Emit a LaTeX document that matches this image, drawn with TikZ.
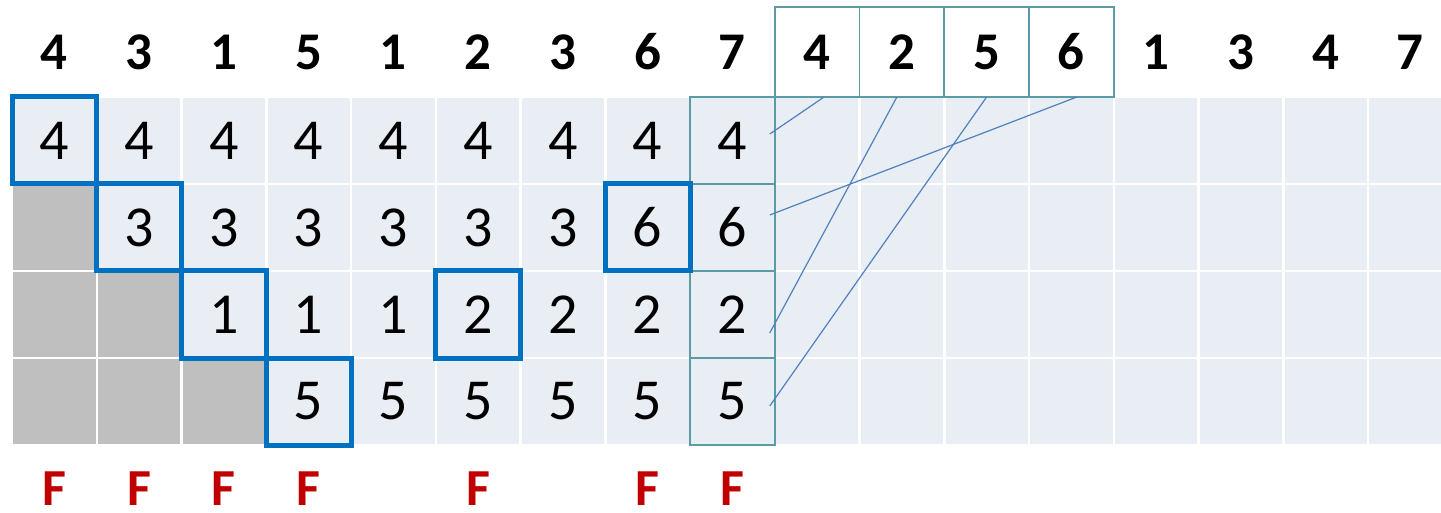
\documentclass[tikz,border=0pt]{standalone}
\usepackage{fontspec}
\setmainfont{Carlito}
\usetikzlibrary{calc}
\definecolor{cellbg}{RGB}{233,237,244}
\definecolor{shade}{RGB}{191,191,191}
\definecolor{pickblue}{RGB}{0,112,192}
\definecolor{slotteal}{RGB}{91,155,165}
\definecolor{linkblue}{RGB}{79,129,189}
\definecolor{flagred}{RGB}{192,0,0}

\begin{document}
\begin{tikzpicture}[
  x=1pt, y=-1pt,
  cell/.style={draw=white, line width=2.5pt, fill=cellbg, minimum width=84.75pt,
               minimum height=87pt, inner sep=0pt, outer sep=0pt},
  val/.style={font=\fontsize{58}{60}\selectfont, inner sep=0pt},
  head/.style={font=\bfseries\fontsize{53}{55}\selectfont, minimum width=84.75pt,
               minimum height=90pt, inner sep=0pt, outer sep=0pt},
  flag/.style={font=\bfseries\fontsize{52}{54}\selectfont, text=flagred, inner sep=0pt},
  slot/.style={draw=slotteal, line width=1.8pt},
  pick/.style={draw=pickblue, line width=5pt},
  link/.style={draw=linkblue, line width=1.2pt}
]
\useasboundingbox (0,0) rectangle (1441,513);
\clip (0,0) rectangle (1441,513);

% ---- grid of cells ----
\foreach \r in {0,...,3}
  \foreach \c in {0,...,16}
    \node[cell] (c-\r-\c) at ({54.375+\c*84.75}, {140.5+\r*87}) {};

% ---- greyed-out lower triangle ----
\foreach \r/\c in {1/0, 2/0, 2/1, 3/0, 3/1, 3/2}
  \path[cell, fill=shade] (c-\r-\c.north west) rectangle (c-\r-\c.south east);

% ---- cell values ----
\foreach \c in {0,...,8}
  \node[val] (v-0-\c) at (c-0-\c) {4};
\foreach \c/\v in {1/3, 2/3, 3/3, 4/3, 5/3, 6/3, 7/6, 8/6}
  \node[val] (v-1-\c) at (c-1-\c) {\v};
\foreach \c/\v in {2/1, 3/1, 4/1, 5/2, 6/2, 7/2, 8/2}
  \node[val] (v-2-\c) at (c-2-\c) {\v};
\foreach \c in {3,...,8}
  \node[val] (v-3-\c) at (c-3-\c) {5};

% ---- last column and its picks ----
\foreach \r in {0,...,3}
  \draw[slot] (c-\r-8.north west) rectangle (c-\r-8.south east);
\foreach \r/\c in {0/0, 1/1, 2/2, 3/3, 2/5, 1/7}
  \draw[pick] (c-\r-\c.north west) rectangle (c-\r-\c.south east);

% ---- input sequence ----
\foreach \v [count=\c from 0] in {4,3,1,5,1,2,3,6,7,4,2,5,6,1,3,4,7}
  \node[head] (h-\c) at (c-0-\c |- 0,52) {\v};
\foreach \c in {9,...,12}
  \draw[slot] (h-\c.north west) rectangle (h-\c.south east);

% ---- links back to the column ----
\draw[link] ([xshift=7pt]h-9.south) -- ([xshift=-5pt, yshift=6.5pt]c-0-8.east);
\draw[link] ([xshift=-5pt]h-10.south) -- ([xshift=-5pt, yshift=-18.5pt]c-2-8.east);
\draw[link] (h-11.south) -- ([xshift=-5pt, yshift=-4.5pt]c-3-8.east);
\draw[link] ([xshift=5.5pt]h-12.south) -- ([xshift=-5pt, yshift=12.5pt]c-1-8.east);

% ---- faults ----
\foreach \c in {0,1,2,3,5,7,8}
  \node[flag] (f-\c) at (c-3-\c |- 0,489) {F};

\end{tikzpicture}
\end{document}
